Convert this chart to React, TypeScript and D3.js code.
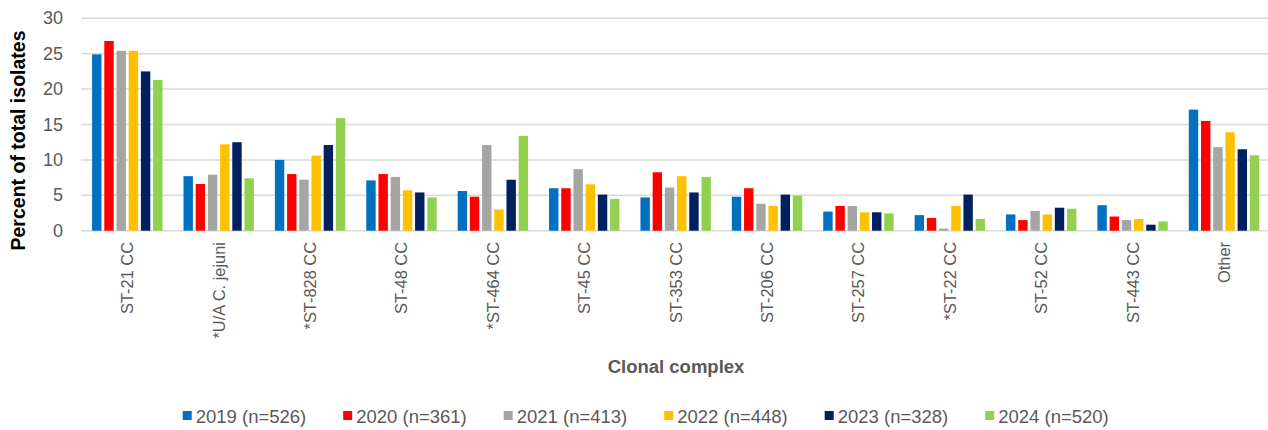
import * as React from 'react';
import { scaleBand, scaleLinear } from 'd3';

const categories = [
  'ST-21 CC', '*U/A C. jejuni', '*ST-828 CC', 'ST-48 CC', '*ST-464 CC', 'ST-45 CC',
  'ST-353 CC', 'ST-206 CC', 'ST-257 CC', '*ST-22 CC', 'ST-52 CC', 'ST-443 CC', 'Other',
];

const seriesNames = ['2019 (n=526)', '2020 (n=361)', '2021 (n=413)', '2022 (n=448)', '2023 (n=328)', '2024 (n=520)'];
const seriesColors = ['#0070C0', '#FF0000', '#A5A5A5', '#FFC000', '#002060', '#92D050'];

const v2019 = [24.9, 7.7, 10.0, 7.1, 5.6, 6.0, 4.7, 4.8, 2.7, 2.2, 2.3, 3.6, 17.1];
const v2020 = [26.8, 6.6, 8.0, 8.0, 4.8, 6.0, 8.25, 6.0, 3.5, 1.8, 1.5, 2.0, 15.5];
const v2021 = [25.4, 7.9, 7.2, 7.6, 12.1, 8.7, 6.1, 3.8, 3.5, 0.3, 2.8, 1.5, 11.8];
const v2022 = [25.4, 12.2, 10.6, 5.7, 3.0, 6.55, 7.7, 3.5, 2.6, 3.5, 2.3, 1.65, 13.9];
const v2023 = [22.5, 12.5, 12.1, 5.4, 7.2, 5.1, 5.4, 5.1, 2.6, 5.1, 3.25, 0.85, 11.5];
const v2024 = [21.3, 7.4, 15.9, 4.7, 13.4, 4.5, 7.6, 4.95, 2.45, 1.65, 3.1, 1.3, 10.65];
const seriesValues = [v2019, v2020, v2021, v2022, v2023, v2024];

const yTicks = [0, 5, 10, 15, 20, 25, 30];

const W = 1268;
const H = 430;
const FONT = 'Arial, "Liberation Sans", sans-serif';

export default function App() {
  const x0 = scaleBand<string>().domain(categories).range([81.6, 1269.7]);
  const groupInner = 73.2;
  const groupOffset = (x0.bandwidth() - groupInner) / 2;
  const x1 = scaleBand<string>().domain(seriesNames).range([0, groupInner]).paddingInner(0.23).paddingOuter(0.115);
  const y = scaleLinear().domain([0, 30]).range([230.7, 18.3]);

  return (
    <div style={{ position: 'absolute', left: 0, top: 0 }}>
      <svg width={W} height={H} viewBox={`0 0 ${W} ${H}`} style={{ display: 'block', background: '#fff' }}>
        {/* gridlines */}
        {yTicks.map(t => (
          <line key={t} x1={81} x2={W} y1={y(t)} y2={y(t)} stroke="#D9D9D9" strokeWidth={1.5} />
        ))}
        {/* y tick labels */}
        {yTicks.map(t => (
          <text key={t} x={63} y={y(t)} textAnchor="end" dominantBaseline="central"
            fontFamily={FONT} fontSize={18} fill="#595959">{t}</text>
        ))}
        <text transform={`translate(18,140.5) rotate(-90)`} textAnchor="middle" dominantBaseline="central"
          fontFamily={FONT} fontSize={19.5} fontWeight="bold" fill="#000">Percent of total isolates</text>

        {/* bars */}
        {categories.map((c, ci) => (
          <g key={c} transform={`translate(${(x0(c) ?? 0) + groupOffset},0)`}>
            {seriesNames.map((s, si) => {
              const v = seriesValues[si][ci];
              return (
                <rect key={s} x={x1(s)} y={y(v)} width={x1.bandwidth()} height={y(0) - y(v)}
                  fill={seriesColors[si]} />
              );
            })}
          </g>
        ))}

        {/* category labels */}
        {categories.map(c => {
          const cx = (x0(c) ?? 0) + x0.bandwidth() / 2;
          return (
            <text key={c} transform={`translate(${cx},242) rotate(-90)`} textAnchor="end" dominantBaseline="central"
              fontFamily={FONT} fontSize={16.4} fill="#595959">{c}</text>
          );
        })}

        <text x={676} y={366} textAnchor="middle" dominantBaseline="central"
          fontFamily={FONT} fontSize={18.5} fontWeight="bold" fill="#595959">Clonal complex</text>

        {/* legend */}
        {seriesNames.map((s, i) => {
          const lx = 182.7 + i * 160.5;
          return (
            <g key={s} transform={`translate(${lx},0)`}>
              <rect x={0} y={411} width={9} height={9} fill={seriesColors[i]} />
              <text x={13} y={416} dominantBaseline="central" fontFamily={FONT} fontSize={18.5} fill="#595959">{s}</text>
            </g>
          );
        })}
      </svg>
    </div>
  );
}
